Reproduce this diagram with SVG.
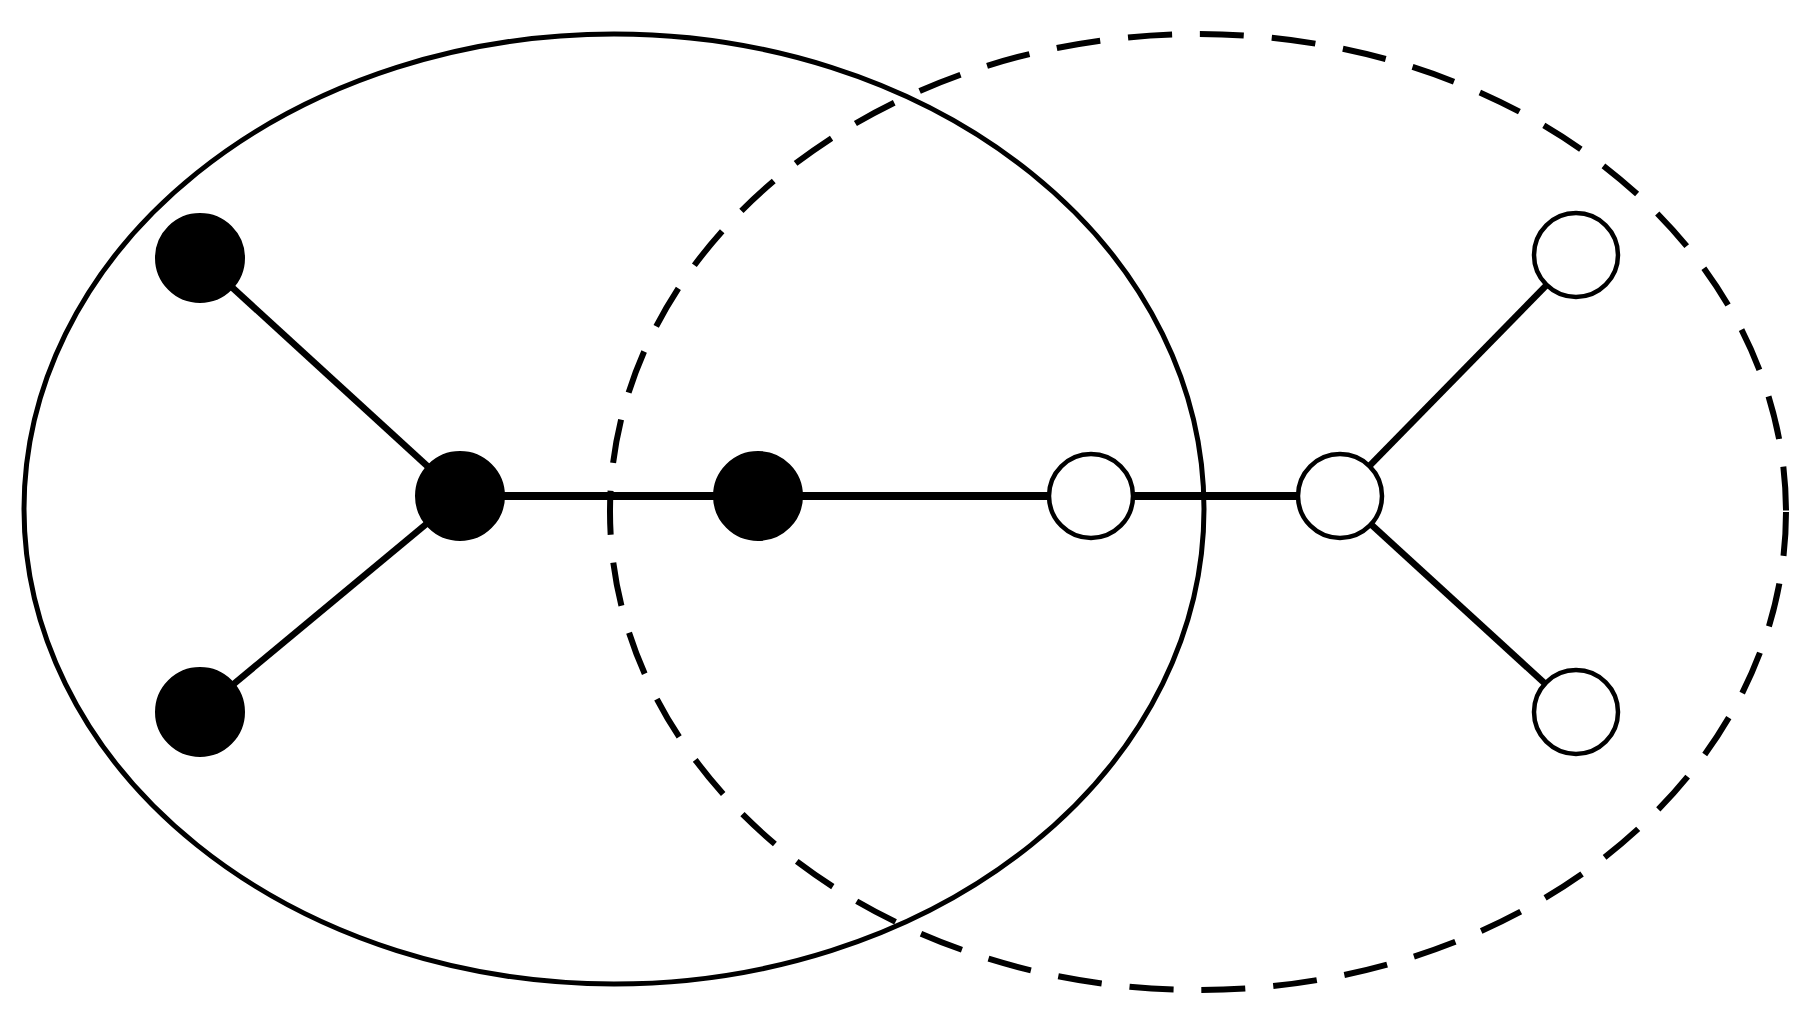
<svg xmlns="http://www.w3.org/2000/svg" width="1815" height="1021" viewBox="0 0 1815 1021">
<style>
.solid{fill:none;stroke:#000;stroke-width:5}
.dashed{fill:none;stroke:#000;stroke-width:6;stroke-dasharray:44 28}
.edge{stroke:#000;stroke-width:6.5;fill:none}
.edge.h{stroke-width:8}
.blk{fill:#000;stroke:#000;stroke-width:2}
.wht{fill:#fff;stroke:#000;stroke-width:4.5}
</style>
<rect width="1815" height="1021" fill="#fff"/>
<g id="groups">
<ellipse id="solid-set" class="solid" cx="614" cy="509" rx="590" ry="475"/>
<ellipse id="dashed-set" class="dashed" cx="1198" cy="512" rx="588" ry="478"/>
</g>
<g id="connectors">
<line class="edge" x1="200" y1="258" x2="460" y2="496"/>
<line class="edge" x1="200" y1="712" x2="460" y2="496"/>
<line class="edge h" x1="460" y1="496" x2="1340" y2="496"/>
<line class="edge" x1="1340" y1="496" x2="1576" y2="255"/>
<line class="edge" x1="1340" y1="496" x2="1576" y2="712"/>
</g>
<g id="n1"><circle class="blk" cx="200" cy="258" r="44"/></g>
<g id="n2"><circle class="blk" cx="200" cy="712" r="44"/></g>
<g id="n3"><circle class="blk" cx="460" cy="496" r="44"/></g>
<g id="n4"><circle class="blk" cx="758" cy="496" r="44"/></g>
<g id="n5"><circle class="wht" cx="1091" cy="496" r="42"/></g>
<g id="n6"><circle class="wht" cx="1340" cy="496" r="42"/></g>
<g id="n7"><circle class="wht" cx="1576" cy="255" r="42"/></g>
<g id="n8"><circle class="wht" cx="1576" cy="712" r="42"/></g>
</svg>
